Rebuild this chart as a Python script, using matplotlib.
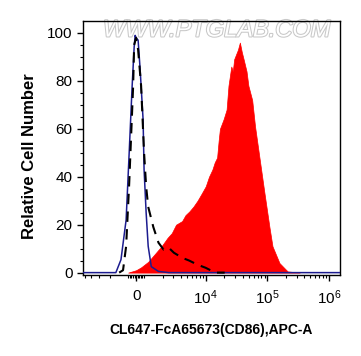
import numpy as np
import matplotlib
matplotlib.use('Agg')
import matplotlib.pyplot as plt
import matplotlib.patheffects as pe

plt.rcParams['font.family'] = ['Liberation Sans', 'DejaVu Sans']
plt.rcParams['mathtext.fontset'] = 'custom'
plt.rcParams['mathtext.rm'] = 'Liberation Sans'
plt.rcParams['mathtext.it'] = 'Liberation Sans:italic'
plt.rcParams['mathtext.bf'] = 'Liberation Sans:bold'

# 샘플 (빨간색 히스토그램)
red_x = [-1000, 0, 625, 1166, 1468, 1920, 2400, 2818, 3300, 4138, 4700, 5412,
         6300, 7356, 8600, 10000, 11300, 12820, 14000, 15300, 16200, 17000,
         19500, 21800, 23400, 26000, 27500, 28900, 31000, 33300, 35800, 38500,
         41200, 45900, 49200, 56700, 63100, 75300, 89900, 108000, 121000,
         157000, 213000, 335000]
red_y = [0, 1, 2.2, 4.5, 7.5, 11, 14.5, 16.5, 20, 21.5, 24, 25.5,
         27.5, 30, 33, 36, 40, 43, 46, 48, 55, 60,
         64, 68, 78, 86, 84, 89, 91, 93, 96, 92,
         89, 84, 78, 72, 61, 47, 33, 19, 11,
         4, 0.5, 0]

# 블루 (아이소타입 컨트롤)
blue_x = [-5400, -1585, -1309, -1080, -875, -500, -250, -125, 0, 250, 500,
          875, 1000, 1080, 1166, 1309, 1711, 2512, 1.5e6]
blue_y = [0, 0, 5.4, 22, 50, 78, 94, 99, 98, 97, 85,
          64, 43, 25, 11, 2.5, 0.5, 0, 0]

# 점선 (비염색 대조군)
dash_x = [-1400, -1212, -1080, -875, -375, -250, 0, 250, 625, 1000, 1080,
          1166, 1413, 1711, 2073, 2512, 3043, 4138, 5412, 7356, 10000,
          14250, 20300]
dash_y = [0, 1, 11, 37, 78, 95, 98, 93, 78, 50, 36,
          27.5, 19, 12.5, 9.6, 10.4, 8.3, 6.2, 5, 3.3, 2,
          0, 0]

xticks = [0, 1e4, 1e5, 1e6]
xticklabels = ['0', '$10^4$', '$10^5$', '$10^6$']
yticks = [0, 20, 40, 60, 80, 100]

fig = plt.figure(figsize=(3.61, 3.56), dpi=100)
ax = fig.add_axes([0.230, 0.2275, 0.712, 0.7135])

ax.set_xscale('symlog', linthresh=1000, linscale=0.116)
ax.fill_between(red_x, red_y, 0, color='#ff0000', lw=0.5, zorder=2)
ax.plot(blue_x, blue_y, color='#1c1c8f', lw=1.1, zorder=3)
ax.plot(dash_x, dash_y, color='black', lw=1.5, ls=(0, (5, 3.5)), zorder=4)

ax.set_xlim(-5400, 1.51e6)
ax.set_ylim(-1, 105)

# 워터마크
ax.text(0.52, 1.01, 'WWW.PTGLAB.COM', transform=ax.transAxes, ha='center',
        va='top', fontsize=17, style='italic', color='white', zorder=1,
        path_effects=[pe.withStroke(linewidth=1.5, foreground='#c8c8c8')])

ax.set_xticks(xticks)
ax.set_xticklabels(xticklabels)
minor = [-5000, -4000, -3000, -2000, -1000, -800, -600, -400, -200,
         200, 400, 600, 800, 1000]
for d in [1e3, 1e4, 1e5]:
    minor += [k * d for k in range(2, 10)]
ax.set_xticks(minor, minor=True)
ax.set_yticks(yticks)
ax.set_yticks(np.arange(0, 105, 5), minor=True)

ax.tick_params(axis='both', which='major', direction='out', length=4, width=1,
               labelsize=11, top=False, right=False)
ax.tick_params(axis='both', which='minor', direction='out', length=2.5,
               width=0.8, top=False, right=False)
ax.tick_params(axis='x', which='major', pad=6)
for s in ax.spines.values():
    s.set_linewidth(1)

ax.set_xlabel('CL647-FcA65673(CD86),APC-A', fontsize=10, fontweight='bold',
              labelpad=11)
ax.set_ylabel('Relative Cell Number', fontsize=12, fontweight='bold')
ax.yaxis.set_label_coords(-0.18, 0.47)

fig.savefig('out.png', dpi=100)
